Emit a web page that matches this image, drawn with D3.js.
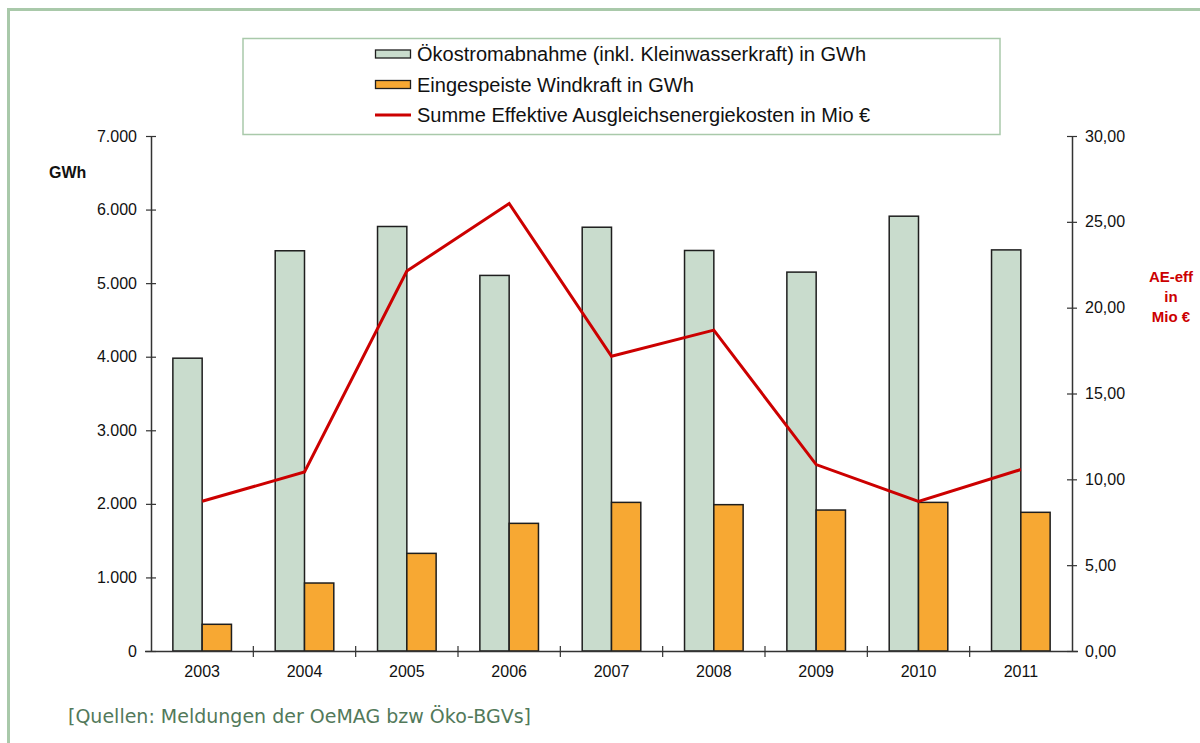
<!DOCTYPE html>
<html><head><meta charset="utf-8">
<script src="https://cdn.jsdelivr.net/npm/d3@7"></script>
<style>
html,body{margin:0;padding:0;background:#fff;overflow:hidden}
svg{display:block}
</style></head>
<body>
<svg id="c" width="1200" height="743"></svg>
<script>
const years = ["2003","2004","2005","2006","2007","2008","2009","2010","2011"];
const oekostrom = [3980,5440,5770,5105,5760,5444,5150,5910,5452];
const windkraft = [363,924,1327,1735,2020,1989,1916,2020,1885];
const aeKosten = [8.72,10.43,22.13,26.07,17.17,18.69,10.86,8.71,10.57];
const leftTicks = [0,1000,2000,3000,4000,5000,6000,7000];
const rightTicks = [0,5,10,15,20,25,30];
const legendLabels = ["Ökostromabnahme (inkl. Kleinwasserkraft) in GWh","Eingespeiste Windkraft in GWh","Summe Effektive Ausgleichsenergiekosten in Mio €"];
const sourceText = "[Quellen: Meldungen der OeMAG bzw Öko-BGVs]";

const svg = d3.select("#c");
const FONT = "'Liberation Sans', Arial, sans-serif";
const GREEN = "#c9dccd", ORANGE = "#f7a833", RED = "#cc0000", FRAME = "#a9c9aa";

// outer frame
svg.append("rect").attr("x",8.5).attr("y",9.5).attr("width",1300).attr("height",900)
  .attr("fill","none").attr("stroke",FRAME).attr("stroke-width",3);

const L = 151, R = 1072, T = 136, B = 651;
const x = d3.scaleBand().domain(years).range([L,R]).paddingInner(0).paddingOuter(0);
const xs = d3.scaleBand().domain(["g","o"]).range([0,58.6]);
const yL = d3.scaleLinear().domain([0,7000]).range([B,T]);
const yR = d3.scaleLinear().domain([0,30]).range([B,T]);
const off = (x.bandwidth()-58.6)/2;

// bars
const g = svg.append("g");
g.selectAll("rect.g").data(years).join("rect")
  .attr("x",d=>x(d)+off+xs("g")).attr("width",xs.bandwidth())
  .attr("y",(d,i)=>yL(oekostrom[i])).attr("height",(d,i)=>B-yL(oekostrom[i]))
  .attr("fill",GREEN).attr("stroke","#1e1e1e").attr("stroke-width",1.5);
g.selectAll("rect.o").data(years).join("rect")
  .attr("x",d=>x(d)+off+xs("o")).attr("width",xs.bandwidth())
  .attr("y",(d,i)=>yL(windkraft[i])).attr("height",(d,i)=>B-yL(windkraft[i]))
  .attr("fill",ORANGE).attr("stroke","#1e1e1e").attr("stroke-width",1.5);

// axes
const de = d3.formatLocale({decimal:",",thousands:".",grouping:[3],currency:["","€"]});
const fL = de.format(",.0f"), fR = de.format(".2f");

const axL = svg.append("g").attr("transform",`translate(${L},0)`)
  .call(d3.axisLeft(yL).tickValues(leftTicks).tickFormat(fL).tickSize(5).tickPadding(9));
const axR = svg.append("g").attr("transform",`translate(${R},0)`)
  .call(d3.axisRight(yR).tickValues(rightTicks).tickFormat(fR).tickSize(5).tickPadding(8));
const axB = svg.append("g").attr("transform",`translate(0,${B})`)
  .call(d3.axisBottom(x).tickSize(0).tickPadding(15));
[axL,axR,axB].forEach(a=>{
  a.selectAll("text").attr("font-family",FONT).attr("font-size",16).attr("fill","#111");
  a.select(".domain").attr("stroke","#333").attr("stroke-width",1.5);
  a.selectAll(".tick line").attr("stroke","#333").attr("stroke-width",1.2);
});
// cross ticks
axL.selectAll(".tick line").attr("x1",5);
axR.selectAll(".tick line").attr("x1",-5);
axL.select(".domain").attr("d",`M0.5,${T}V${B}`);
axR.select(".domain").attr("d",`M0.5,${T}V${B}`);
axB.select(".domain").attr("d",`M${L-6},0.5H${R+6}`);
// category boundary ticks
const bounds = years.slice(1).map(d=>x(d));
svg.append("g").selectAll("line").data(bounds).join("line")
  .attr("x1",d=>d).attr("x2",d=>d).attr("y1",B-5).attr("y2",B+6)
  .attr("stroke","#333").attr("stroke-width",1.2);

// line
const line = d3.line().x((d,i)=>x(years[i])+x.bandwidth()/2).y(d=>yR(d));
svg.append("path").datum(aeKosten).attr("d",line)
  .attr("fill","none").attr("stroke",RED).attr("stroke-width",3).attr("stroke-linejoin","miter");

// axis titles
svg.append("text").attr("x",49).attr("y",178).text("GWh")
  .attr("font-family",FONT).attr("font-weight","bold").attr("font-size",16).attr("fill","#111");
const ae = svg.append("text").attr("text-anchor","middle").attr("font-family",FONT)
  .attr("font-weight","bold").attr("font-size",15).attr("fill",RED);
["AE-eff","in","Mio €"].forEach((t,i)=>ae.append("tspan").attr("x",1171).attr("y",282+i*20.2).text(t));

// legend
svg.append("rect").attr("x",243).attr("y",38.5).attr("width",757).attr("height",96)
  .attr("fill","#fff").attr("stroke",FRAME).attr("stroke-width",1.5);
const lg = svg.append("g");
legendLabels.forEach((t,i)=>{
  const cy = 54 + i*30.5;
  if(i<2){
    lg.append("rect").attr("x",375.5).attr("y",cy-4).attr("width",35).attr("height",8)
      .attr("fill",i==0?GREEN:ORANGE).attr("stroke","#1e1e1e").attr("stroke-width",1.3);
  } else {
    lg.append("line").attr("x1",375).attr("x2",411).attr("y1",cy).attr("y2",cy)
      .attr("stroke",RED).attr("stroke-width",3);
  }
  lg.append("text").attr("x",417).attr("y",cy+7).text(t)
    .attr("font-family",FONT).attr("font-size",20).attr("fill","#111");
});

// source
svg.append("text").attr("x",68).attr("y",723).text(sourceText)
  .attr("font-family","'DejaVu Sans', Verdana, sans-serif").attr("font-size",19).attr("fill","#52795a");
</script>
</body></html>
